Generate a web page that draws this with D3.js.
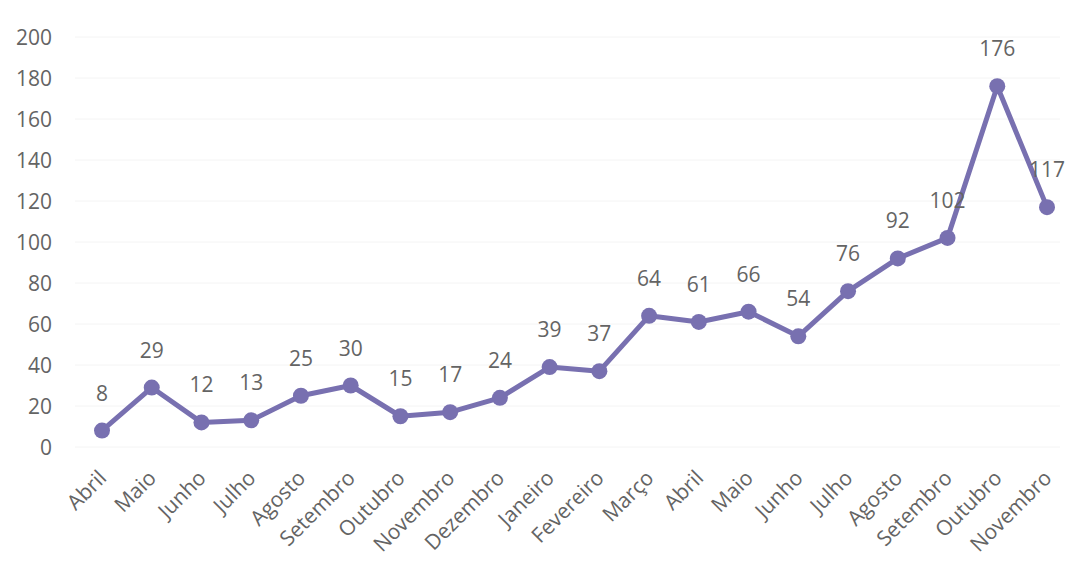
<!DOCTYPE html>
<html>
<head>
<meta charset="utf-8">
<script src="https://cdn.jsdelivr.net/npm/d3@7"></script>
<style>
  body { margin: 0; background: #fff; }
  text { font-family: "Open Sans", Lato, sans-serif; fill: #646464; }
</style>
</head>
<body>
<svg id="chart" width="1067" height="561"></svg>
<script>
// months (two years, Abril -> Novembro)
const months = ['Abril','Maio','Junho','Julho','Agosto','Setembro','Outubro','Novembro','Dezembro',
  'Janeiro','Fevereiro','Março','Abril','Maio','Junho','Julho','Agosto','Setembro','Outubro','Novembro']
const values = [8,29,12,13,25,30,15,17,24,39,37,64,61,66,54,76,92,102,176,117]
const yTicks = [0,20,40,60,80,100,120,140,160,180,200]

const svg = d3.select('#chart')
const lineColor = '#7870b0'

const x = d3.scalePoint()
  .domain(d3.range(values.length))
  .range([102, 1047])

const y = d3.scaleLinear()
  .domain([0, 200])
  .range([447, 37])

//faint grid
svg.append('g')
  .selectAll('line')
  .data(yTicks)
  .join('line')
  .attr('x1', 75).attr('x2', 1060)
  .attr('y1', d => y(d)).attr('y2', d => y(d))
  .attr('stroke', '#f4f4f4')
  .attr('stroke-width', 1)

//y axis
const yAxis = svg.append('g')
  .attr('transform', 'translate(52,0)')
  .call(d3.axisLeft(y).tickValues(yTicks).tickSize(0).tickPadding(0))
yAxis.select('.domain').remove()
yAxis.selectAll('text')
  .style('font-size', '21px')
  .attr('dy', '0.35em')

//x axis labels, rotated
const xAxis = svg.append('g')
  .attr('transform', 'translate(0,472)')
  .call(d3.axisBottom(x).tickSize(0).tickFormat(i => months[i]))
xAxis.select('.domain').remove()
xAxis.selectAll('text')
  .style('font-size', '21px')
  .attr('text-anchor', 'end')
  .attr('dy', '0.35em')
  .attr('transform', 'translate(-2,0) rotate(-45)')

//line
const line = d3.line()
  .x((d, i) => x(i))
  .y(d => y(d))

svg.append('path')
  .datum(values)
  .attr('fill', 'none')
  .attr('stroke', lineColor)
  .attr('stroke-width', 5)
  .attr('stroke-linejoin', 'round')
  .attr('d', line)

svg.append('g')
  .selectAll('circle')
  .data(values)
  .join('circle')
  .attr('cx', (d, i) => x(i))
  .attr('cy', d => y(d))
  .attr('r', 8)
  .attr('fill', lineColor)

//data labels
svg.append('g')
  .selectAll('text')
  .data(values)
  .join('text')
  .attr('x', (d, i) => x(i))
  .attr('y', d => y(d) - 30)
  .attr('text-anchor', 'middle')
  .style('font-size', '21px')
  .text(d => d)
</script>
</body>
</html>
